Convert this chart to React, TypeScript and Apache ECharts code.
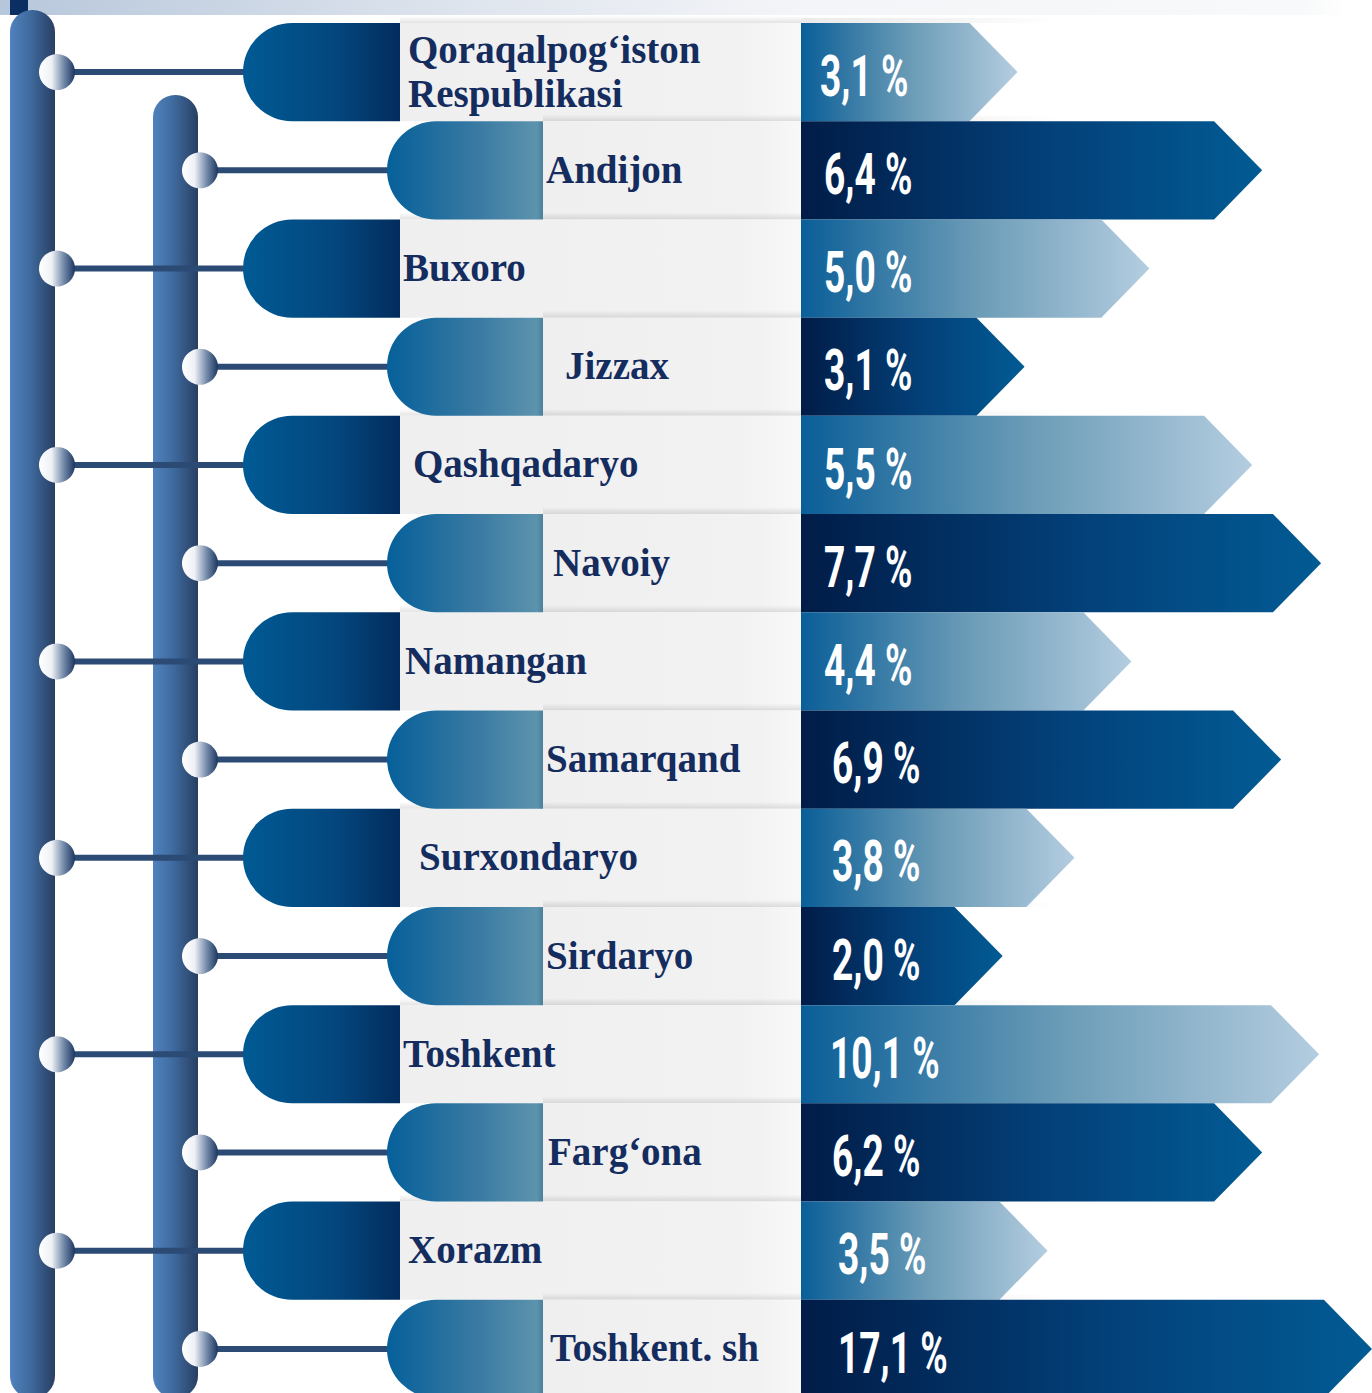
import React, { useEffect, useRef } from "react";
import * as echarts from "echarts";

// ---- data ----
const regions = [
  "Qoraqalpog‘iston\nRespublikasi",
  "Andijon",
  "Buxoro",
  "Jizzax",
  "Qashqadaryo",
  "Navoiy",
  "Namangan",
  "Samarqand",
  "Surxondaryo",
  "Sirdaryo",
  "Toshkent",
  "Farg‘ona",
  "Xorazm",
  "Toshkent. sh",
];
const shares = [3.1, 6.4, 5.0, 3.1, 5.5, 7.7, 4.4, 6.9, 3.8, 2.0, 10.1, 6.2, 3.5, 17.1];
// drawn arrow lengths (as they appear in the picture, in axis units)
const arrowLengths = [217, 462, 349, 224, 452, 521, 331, 481, 274, 202, 519, 462, 247, 572];

// ---- layout ----
const labelX = [408, 546, 403, 565, 413, 553, 405, 546, 419, 546, 403, 548, 408, 550];
const valueX = [820, 824, 824, 824, 824, 824, 824, 832, 832, 832, 830, 832, 838, 838];
const BAR_LEFT = 801;
const W = 1372;
const H = 1393;

const lg = (stops: [number, string][], x2 = 1, y2 = 0) =>
  new echarts.graphic.LinearGradient(0, 0, x2, y2, stops.map(([offset, color]) => ({ offset, color })));

function App() {
  const ref = useRef<HTMLDivElement>(null);
  useEffect(() => {
    if (!ref.current) return;
    const chart = echarts.init(ref.current, undefined, { renderer: "svg" });
    const data = arrowLengths.map((v, i) => [v, i]);

    const bgItem = (params: any, api: any) => {
      const i = params.dataIndex;
      const c = api.coord([0, i]);
      const h = api.size([0, 1])[1];
      const top = c[1] - h / 2;
      const typeA = i % 2 === 0;
      const gx = typeA ? 400 : 543;
      return {
        type: "group",
        children: [
          {
            type: "rect",
            shape: { x: gx, y: top - 7, width: BAR_LEFT - gx, height: 7 },
            style: { fill: lg([[0, "rgba(0,0,0,0)"], [1, "rgba(0,0,0,0.11)"]], 0, 1) },
          },
          {
            type: "rect",
            shape: { x: BAR_LEFT, y: top - 5, width: 260, height: 5 },
            style: { fill: lg([[0, "rgba(0,0,0,0.08)"], [0.6, "rgba(0,0,0,0.04)"], [1, "rgba(0,0,0,0)"]]) },
          },
          {
            type: "rect",
            shape: { x: gx, y: top, width: BAR_LEFT - gx, height: h },
            style: { fill: lg([[0, "#efefef"], [0.85, "#f2f2f2"], [1, "#f8f8f8"]]) },
          },
        ],
      };
    };

    const fgItem = (params: any, api: any) => {
      const i = params.dataIndex;
      const len = api.value(0);
      const tip = api.coord([len, i]);
      const base = api.coord([0, i]);
      const h = api.size([0, 1])[1];
      const cy = base[1];
      const top = cy - h / 2;
      const bot = cy + h / 2;
      const typeA = i % 2 === 0;
      const knobX = typeA ? 57 : 200;
      const pillX = typeA ? 243 : 387;
      const pillW = typeA ? 157 : 156;
      const d = h * 0.49;
      const label = shares[i].toFixed(1).replace(".", ",") + " %";
      return {
        type: "group",
        children: [
          {
            type: "line",
            shape: { x1: knobX, y1: cy, x2: pillX + 20, y2: cy },
            style: { stroke: "#2b4a74", lineWidth: 6 },
          },
          {
            type: "rect",
            shape: { x: pillX, y: top, width: pillW, height: h, r: [h / 2, 0, 0, h / 2] },
            style: {
              fill: typeA
                ? lg([[0, "#005a94"], [0.6, "#03467d"], [1, "#032c5d"]])
                : lg([[0, "#06609a"], [0.6, "#3b7ba3"], [0.96, "#5c93ae"], [1, "#4d7f9a"]]),
            },
          },
          {
            type: "circle",
            shape: { cx: knobX, cy, r: 18 },
            style: { fill: lg([[0, "#ffffff"], [0.35, "#eef1f6"], [0.7, "#6f86a6"], [1, "#1c3660"]]) },
          },
          {
            type: "polygon",
            shape: {
              points: [
                [base[0], top],
                [tip[0] - d, top],
                [tip[0], cy],
                [tip[0] - d, bot],
                [base[0], bot],
              ],
            },
            style: {
              fill: typeA
                ? lg([[0, "#0a5e98"], [0.5, "#6a9bb6"], [1, "#b4cde0"]])
                : lg([[0, "#011c47"], [0.55, "#03417a"], [1, "#025b94"]]),
            },
          },
          {
            type: "text",
            x: labelX[i],
            y: cy - 1,
            style: {
              x: 0,
              y: 0,
              text: regions[i],
              fill: "#142c5e",
              fontFamily: "'Liberation Serif', serif",
              fontWeight: "bold",
              fontSize: 39,
              lineHeight: 44,
              align: "left",
              verticalAlign: "middle",
            },
          },
          {
            type: "text",
            x: valueX[i],
            y: cy + 4,
            scaleX: 0.64,
            scaleY: 1,
            style: {
              x: 0,
              y: 0,
              text: label,
              fill: "#ffffff",
              fontFamily: "Roboto, sans-serif",
              fontWeight: "bold",
              fontSize: 58,
              align: "left",
              verticalAlign: "middle",
            },
          },
        ],
      };
    };

    chart.setOption({
      animation: false,
      backgroundColor: "#ffffff",
      grid: { left: BAR_LEFT, top: 23, width: W - BAR_LEFT - 1, height: 1375, outerBoundsMode: "none", containLabel: false },
      xAxis: { type: "value", min: 0, max: 571, show: false },
      yAxis: { type: "category", data: regions, inverse: true, show: false },
      graphic: [
        {
          type: "rect",
          shape: { x: 0, y: 0, width: 1345, height: 15 },
          style: { fill: lg([[0, "#b7c7db"], [0.35, "#dfe5ee"], [0.6, "#f4f5f8"], [0.97, "#f8f9fa"], [1, "#ffffff"]]) },
          z: 0,
        },
        { type: "rect", shape: { x: 10, y: 0, width: 18, height: 15 }, style: { fill: "#0b2f63" }, z: 1 },
        {
          type: "rect",
          shape: { x: 10, y: 10, width: 45, height: 1388, r: 22 },
          style: { fill: lg([[0, "#5082bd"], [0.45, "#3f6a9e"], [1, "#283f62"]]) },
          z: 1,
        },
        {
          type: "rect",
          shape: { x: 153, y: 95, width: 45, height: 1303, r: 22 },
          style: { fill: lg([[0, "#5082bd"], [0.45, "#3f6a9e"], [1, "#283f62"]]) },
          z: 1,
        },
      ],
      series: [
        { type: "custom", z: 2, renderItem: bgItem, data, silent: true },
        { type: "custom", z: 3, renderItem: fgItem, data, silent: true },
      ],
    });
    return () => chart.dispose();
  }, []);
  return <div ref={ref} style={{ position: "absolute", left: 0, top: 0, width: W, height: H }} />;
}

export default App;
